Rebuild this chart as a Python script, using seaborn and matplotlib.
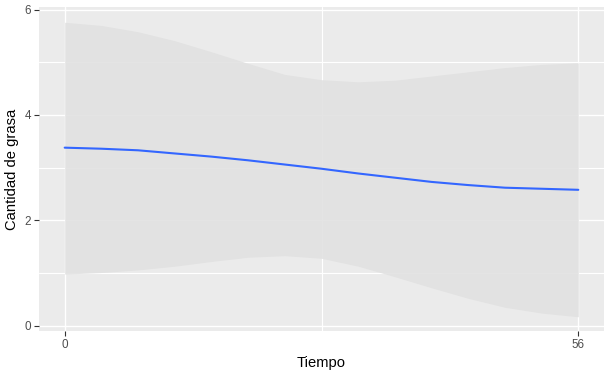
import matplotlib
matplotlib.use("Agg")
import matplotlib.pyplot as plt
import seaborn as sns
import numpy as np
import pandas as pd

# Data (loess smooth with CI band)
tiempo = [0, 4, 8, 12, 16, 20, 24, 28, 32, 36, 40, 44, 48, 52, 56]
ajuste = [3.38, 3.36, 3.33, 3.27, 3.21, 3.14, 3.06, 2.98, 2.89, 2.81, 2.73, 2.67, 2.62, 2.60, 2.58]
superior = [5.76, 5.70, 5.58, 5.41, 5.20, 4.98, 4.77, 4.67, 4.63, 4.66, 4.74, 4.82, 4.90, 4.96, 4.99]
inferior = [0.98, 1.01, 1.06, 1.13, 1.22, 1.30, 1.33, 1.28, 1.13, 0.93, 0.72, 0.52, 0.35, 0.24, 0.17]
x_ticks = [0, 56]
y_ticks = [0, 2, 4, 6]

df = pd.DataFrame({"Tiempo": tiempo, "ajuste": ajuste,
                   "superior": superior, "inferior": inferior})

sns.set_theme(style="darkgrid")
plt.rcParams['font.family'] = ['Liberation Sans', 'DejaVu Sans']

fig = plt.figure(figsize=(6.12, 3.77), dpi=100)
ax = fig.add_axes([39/612, (377-331)/377, (604-39)/612, 324/377])
ax.set_facecolor('#EBEBEB')
for s in ax.spines.values():
    s.set_visible(False)

ax.fill_between(df["Tiempo"], df["inferior"], df["superior"],
                color='#E1E1E1', alpha=0.9, linewidth=0, zorder=2)
sns.lineplot(data=df, x="Tiempo", y="ajuste", color='#3366FF',
             linewidth=1.5, ax=ax, zorder=3)

ax.set_xlim(-2.8, 58.8)
ax.set_ylim(-0.1, 6.05)
ax.set_xticks(x_ticks)
ax.set_xticks([28], minor=True)
ax.set_yticks(y_ticks)
ax.set_yticks([1, 3, 5], minor=True)
ax.grid(which='major', color='white', linewidth=1.0, zorder=1)
ax.grid(which='minor', color='white', linewidth=0.8, zorder=1)
ax.set_axisbelow(True)

ax.tick_params(axis='both', which='major', length=3.5, width=0.8,
               color='#333333', labelcolor='#4D4D4D', labelsize=8.4, pad=2,
               bottom=True, left=True)
ax.tick_params(axis='both', which='minor', length=0)

ax.set_xlabel("Tiempo", fontsize=10.6, color='black', labelpad=4)
ax.set_ylabel("Cantidad de grasa", fontsize=10.6, color='black', labelpad=4)

fig.savefig("out.png", dpi=100)
